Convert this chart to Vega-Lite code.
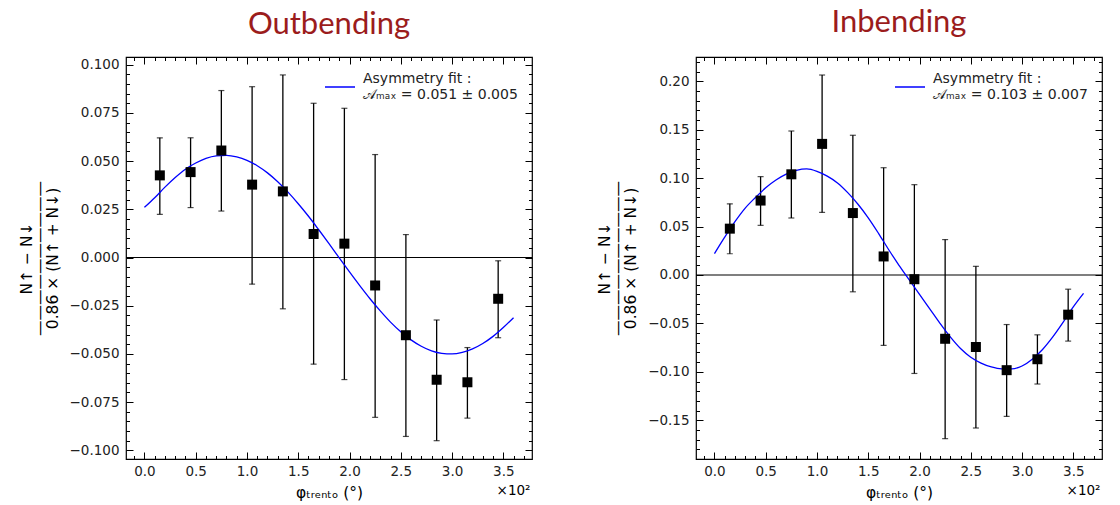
{
  "$schema": "https://vega.github.io/schema/vega-lite/v6.json",
  "background": "white",
  "padding": {"left": 18, "top": 6, "right": 5, "bottom": 5},
  "datasets": {
    "outPts": [
      {"phi": 0.15, "A": 0.0426, "lo": 0.0224, "hi": 0.0621},
      {"phi": 0.45, "A": 0.0443, "lo": 0.0259, "hi": 0.0621},
      {"phi": 0.75, "A": 0.0555, "lo": 0.0241, "hi": 0.0866},
      {"phi": 1.05, "A": 0.0378, "lo": -0.0138, "hi": 0.0886},
      {"phi": 1.35, "A": 0.0343, "lo": -0.0266, "hi": 0.0947},
      {"phi": 1.65, "A": 0.0122, "lo": -0.0553, "hi": 0.0800},
      {"phi": 1.95, "A": 0.0072, "lo": -0.0633, "hi": 0.0774},
      {"phi": 2.25, "A": -0.0145, "lo": -0.0829, "hi": 0.0534},
      {"phi": 2.55, "A": -0.0403, "lo": -0.0928, "hi": 0.0119},
      {"phi": 2.85, "A": -0.0634, "lo": -0.0950, "hi": -0.0324},
      {"phi": 3.15, "A": -0.0647, "lo": -0.0833, "hi": -0.0467},
      {"phi": 3.45, "A": -0.0214, "lo": -0.0416, "hi": -0.0017}
    ],
    "inPts": [
      {"phi": 0.15, "A": 0.0478, "lo": 0.0219, "hi": 0.0734},
      {"phi": 0.45, "A": 0.0768, "lo": 0.0512, "hi": 0.1015},
      {"phi": 0.75, "A": 0.1039, "lo": 0.0588, "hi": 0.1486},
      {"phi": 1.05, "A": 0.1353, "lo": 0.0646, "hi": 0.2064},
      {"phi": 1.35, "A": 0.0639, "lo": -0.0174, "hi": 0.1442},
      {"phi": 1.65, "A": 0.0191, "lo": -0.0727, "hi": 0.1107},
      {"phi": 1.95, "A": -0.0044, "lo": -0.1017, "hi": 0.0932},
      {"phi": 2.25, "A": -0.0659, "lo": -0.1690, "hi": 0.0365},
      {"phi": 2.55, "A": -0.0744, "lo": -0.1580, "hi": 0.0089},
      {"phi": 2.85, "A": -0.0983, "lo": -0.1460, "hi": -0.0512},
      {"phi": 3.15, "A": -0.0870, "lo": -0.1126, "hi": -0.0618},
      {"phi": 3.45, "A": -0.0410, "lo": -0.0683, "hi": -0.0147}
    ],
    "outCurve": [
      {"phi": 0.0, "A": 0.0260}, {"phi": 0.1, "A": 0.0310}, {"phi": 0.2, "A": 0.0365},
      {"phi": 0.3, "A": 0.0415}, {"phi": 0.4, "A": 0.0458}, {"phi": 0.5, "A": 0.0490},
      {"phi": 0.6, "A": 0.0514}, {"phi": 0.7, "A": 0.0527}, {"phi": 0.8, "A": 0.0530},
      {"phi": 0.9, "A": 0.0522}, {"phi": 1.0, "A": 0.0504}, {"phi": 1.1, "A": 0.0476},
      {"phi": 1.2, "A": 0.0439}, {"phi": 1.3, "A": 0.0393}, {"phi": 1.4, "A": 0.0339},
      {"phi": 1.5, "A": 0.0279}, {"phi": 1.6, "A": 0.0214}, {"phi": 1.7, "A": 0.0144},
      {"phi": 1.8, "A": 0.0072}, {"phi": 1.9, "A": -0.0002}, {"phi": 2.0, "A": -0.0075},
      {"phi": 2.1, "A": -0.0146}, {"phi": 2.2, "A": -0.0214}, {"phi": 2.3, "A": -0.0277},
      {"phi": 2.4, "A": -0.0335}, {"phi": 2.5, "A": -0.0385}, {"phi": 2.6, "A": -0.0427},
      {"phi": 2.7, "A": -0.0460}, {"phi": 2.8, "A": -0.0484}, {"phi": 2.9, "A": -0.0497},
      {"phi": 3.0, "A": -0.0500}, {"phi": 3.1, "A": -0.0492}, {"phi": 3.2, "A": -0.0474},
      {"phi": 3.3, "A": -0.0446}, {"phi": 3.4, "A": -0.0409}, {"phi": 3.5, "A": -0.0363},
      {"phi": 3.6, "A": -0.0312}
    ],
    "inCurve": [
      {"phi": 0.0, "A": 0.022}, {"phi": 0.1, "A": 0.039}, {"phi": 0.2, "A": 0.055},
      {"phi": 0.3, "A": 0.069}, {"phi": 0.4, "A": 0.080}, {"phi": 0.5, "A": 0.090},
      {"phi": 0.6, "A": 0.098}, {"phi": 0.7, "A": 0.104}, {"phi": 0.8, "A": 0.108},
      {"phi": 0.9, "A": 0.1095}, {"phi": 1.0, "A": 0.107}, {"phi": 1.1, "A": 0.102},
      {"phi": 1.2, "A": 0.095}, {"phi": 1.3, "A": 0.085}, {"phi": 1.4, "A": 0.073},
      {"phi": 1.5, "A": 0.059}, {"phi": 1.6, "A": 0.043}, {"phi": 1.7, "A": 0.026},
      {"phi": 1.8, "A": 0.010}, {"phi": 1.9, "A": -0.005}, {"phi": 2.0, "A": -0.020},
      {"phi": 2.1, "A": -0.035}, {"phi": 2.2, "A": -0.050}, {"phi": 2.3, "A": -0.064},
      {"phi": 2.4, "A": -0.076}, {"phi": 2.5, "A": -0.085}, {"phi": 2.6, "A": -0.091},
      {"phi": 2.7, "A": -0.095}, {"phi": 2.8, "A": -0.097}, {"phi": 2.9, "A": -0.097},
      {"phi": 3.0, "A": -0.094}, {"phi": 3.1, "A": -0.087}, {"phi": 3.2, "A": -0.077},
      {"phi": 3.3, "A": -0.064}, {"phi": 3.4, "A": -0.049}, {"phi": 3.5, "A": -0.033},
      {"phi": 3.6, "A": -0.019}
    ],
    "zero": [{"y0": 0}]
  },
  "spacing": 63,
  "resolve": {"scale": {"color": "independent"}, "legend": {"color": "independent"}},
  "hconcat": [
    {
      "width": 406, "height": 402,
      "title": {"text": "Outbending"},
      "resolve": {"axis": {"x": "independent", "y": "independent"}},
      "layer": [
        {
          "data": {"name": "zero"},
          "mark": {"type": "rule", "color": "black", "strokeWidth": 1.1},
          "encoding": {"y": {"field": "y0", "type": "quantitative", "axis": null, "scale": {"domain": [-0.1045, 0.104], "nice": false, "zero": false}}}
        },
        {
          "data": {"name": "outPts"},
          "mark": {"type": "errorbar", "ticks": {"size": 6, "thickness": 1.2}, "thickness": 1.3, "color": "black"},
          "encoding": {
            "x": {"field": "phi", "type": "quantitative", "axis": null, "scale": {"domain": [-0.18, 3.78], "nice": false, "zero": false}},
            "y": {"field": "lo", "type": "quantitative", "axis": null, "scale": {"domain": [-0.1045, 0.104], "nice": false, "zero": false}},
            "y2": {"field": "hi"}
          }
        },
        {
          "data": {"name": "outCurve"},
          "mark": {"type": "line", "strokeWidth": 1.3, "interpolate": "monotone"},
          "encoding": {
            "x": {"field": "phi", "type": "quantitative", "scale": {"domain": [-0.18, 3.78], "nice": false, "zero": false},
              "axis": {"orient": "bottom", "title": "φₜᵣₑₙₜₒ (°)", "titlePadding": 4,
                "values": [-0.1,0,0.1,0.2,0.3,0.4,0.5,0.6,0.7,0.8,0.9,1,1.1,1.2,1.3,1.4,1.5,1.6,1.7,1.8,1.9,2,2.1,2.2,2.3,2.4,2.5,2.6,2.7,2.8,2.9,3,3.1,3.2,3.3,3.4,3.5,3.6,3.7],
                "labelExpr": "abs(datum.value*2 - round(datum.value*2)) < 0.001 ? format(datum.value, '.1f') : ''",
                "tickSize": {"condition": {"test": "abs(datum.value*2 - round(datum.value*2)) < 0.001", "value": -7}, "value": -3.5},
                "labelPadding": 12}},
            "y": {"field": "A", "type": "quantitative", "scale": {"domain": [-0.1045, 0.104], "nice": false, "zero": false},
              "axis": {"orient": "left", "title": ["N↑ − N↓", "——————————", "0.86 × (N↑ + N↓)"], "titleLineHeight": 13, "titlePadding": 9,
                "values": [-0.1,-0.095,-0.09,-0.085,-0.08,-0.075,-0.07,-0.065,-0.06,-0.055,-0.05,-0.045,-0.04,-0.035,-0.03,-0.025,-0.02,-0.015,-0.01,-0.005,0,0.005,0.01,0.015,0.02,0.025,0.03,0.035,0.04,0.045,0.05,0.055,0.06,0.065,0.07,0.075,0.08,0.085,0.09,0.095,0.1],
                "labelExpr": "abs(datum.value*40 - round(datum.value*40)) < 0.001 ? format(datum.value, '.3f') : ''",
                "tickSize": {"condition": {"test": "abs(datum.value*40 - round(datum.value*40)) < 0.001", "value": -7}, "value": -3.5},
                "labelPadding": 14}},
            "color": {"datum": "Asymmetry fit :|𝒜ₘₐₓ = 0.051 ± 0.005", "scale": {"range": ["blue"]},
              "legend": {"orient": "top-right", "title": null, "labelExpr": "split(datum.label, '|')"}}
          }
        },
        {
          "data": {"name": "outPts"},
          "mark": {"type": "square", "size": 100, "color": "black", "opacity": 1},
          "encoding": {
            "x": {"field": "phi", "type": "quantitative", "scale": {"domain": [-0.18, 3.78], "nice": false, "zero": false},
              "axis": {"orient": "top", "labels": false, "title": "×10²", "titleX": 404, "titleY": 433, "titleAlign": "right", "titleBaseline": "middle", "titleFontSize": 13.5, "titleAngle": 0,
                "values": [-0.1,0,0.1,0.2,0.3,0.4,0.5,0.6,0.7,0.8,0.9,1,1.1,1.2,1.3,1.4,1.5,1.6,1.7,1.8,1.9,2,2.1,2.2,2.3,2.4,2.5,2.6,2.7,2.8,2.9,3,3.1,3.2,3.3,3.4,3.5,3.6,3.7],
                "tickSize": {"condition": {"test": "abs(datum.value*2 - round(datum.value*2)) < 0.001", "value": -7}, "value": -3.5}}},
            "y": {"field": "A", "type": "quantitative", "scale": {"domain": [-0.1045, 0.104], "nice": false, "zero": false},
              "axis": {"orient": "right", "labels": false, "title": null,
                "values": [-0.1,-0.095,-0.09,-0.085,-0.08,-0.075,-0.07,-0.065,-0.06,-0.055,-0.05,-0.045,-0.04,-0.035,-0.03,-0.025,-0.02,-0.015,-0.01,-0.005,0,0.005,0.01,0.015,0.02,0.025,0.03,0.035,0.04,0.045,0.05,0.055,0.06,0.065,0.07,0.075,0.08,0.085,0.09,0.095,0.1],
                "tickSize": {"condition": {"test": "abs(datum.value*40 - round(datum.value*40)) < 0.001", "value": -7}, "value": -3.5}}}
          }
        }
      ]
    },
    {
      "width": 406, "height": 402,
      "title": {"text": "Inbending"},
      "resolve": {"axis": {"x": "independent", "y": "independent"}},
      "layer": [
        {
          "data": {"name": "zero"},
          "mark": {"type": "rule", "color": "black", "strokeWidth": 1.1},
          "encoding": {"y": {"field": "y0", "type": "quantitative", "axis": null, "scale": {"domain": [-0.19, 0.225], "nice": false, "zero": false}}}
        },
        {
          "data": {"name": "inPts"},
          "mark": {"type": "errorbar", "ticks": {"size": 6, "thickness": 1.2}, "thickness": 1.3, "color": "black"},
          "encoding": {
            "x": {"field": "phi", "type": "quantitative", "axis": null, "scale": {"domain": [-0.18, 3.78], "nice": false, "zero": false}},
            "y": {"field": "lo", "type": "quantitative", "axis": null, "scale": {"domain": [-0.19, 0.225], "nice": false, "zero": false}},
            "y2": {"field": "hi"}
          }
        },
        {
          "data": {"name": "inCurve"},
          "mark": {"type": "line", "strokeWidth": 1.3, "interpolate": "monotone"},
          "encoding": {
            "x": {"field": "phi", "type": "quantitative", "scale": {"domain": [-0.18, 3.78], "nice": false, "zero": false},
              "axis": {"orient": "bottom", "title": "φₜᵣₑₙₜₒ (°)", "titlePadding": 4,
                "values": [-0.1,0,0.1,0.2,0.3,0.4,0.5,0.6,0.7,0.8,0.9,1,1.1,1.2,1.3,1.4,1.5,1.6,1.7,1.8,1.9,2,2.1,2.2,2.3,2.4,2.5,2.6,2.7,2.8,2.9,3,3.1,3.2,3.3,3.4,3.5,3.6,3.7],
                "labelExpr": "abs(datum.value*2 - round(datum.value*2)) < 0.001 ? format(datum.value, '.1f') : ''",
                "tickSize": {"condition": {"test": "abs(datum.value*2 - round(datum.value*2)) < 0.001", "value": -7}, "value": -3.5},
                "labelPadding": 12}},
            "y": {"field": "A", "type": "quantitative", "scale": {"domain": [-0.19, 0.225], "nice": false, "zero": false},
              "axis": {"orient": "left", "title": ["N↑ − N↓", "——————————", "0.86 × (N↑ + N↓)"], "titleLineHeight": 13, "titlePadding": 9,
                "values": [-0.18,-0.17,-0.16,-0.15,-0.14,-0.13,-0.12,-0.11,-0.1,-0.09,-0.08,-0.07,-0.06,-0.05,-0.04,-0.03,-0.02,-0.01,0,0.01,0.02,0.03,0.04,0.05,0.06,0.07,0.08,0.09,0.1,0.11,0.12,0.13,0.14,0.15,0.16,0.17,0.18,0.19,0.2,0.21,0.22],
                "labelExpr": "abs(datum.value*20 - round(datum.value*20)) < 0.001 ? format(datum.value, '.2f') : ''",
                "tickSize": {"condition": {"test": "abs(datum.value*20 - round(datum.value*20)) < 0.001", "value": -7}, "value": -3.5},
                "labelPadding": 14}},
            "color": {"datum": "Asymmetry fit :|𝒜ₘₐₓ = 0.103 ± 0.007", "scale": {"range": ["blue"]},
              "legend": {"orient": "top-right", "title": null, "labelExpr": "split(datum.label, '|')"}}
          }
        },
        {
          "data": {"name": "inPts"},
          "mark": {"type": "square", "size": 100, "color": "black", "opacity": 1},
          "encoding": {
            "x": {"field": "phi", "type": "quantitative", "scale": {"domain": [-0.18, 3.78], "nice": false, "zero": false},
              "axis": {"orient": "top", "labels": false, "title": "×10²", "titleX": 404, "titleY": 433, "titleAlign": "right", "titleBaseline": "middle", "titleFontSize": 13.5, "titleAngle": 0,
                "values": [-0.1,0,0.1,0.2,0.3,0.4,0.5,0.6,0.7,0.8,0.9,1,1.1,1.2,1.3,1.4,1.5,1.6,1.7,1.8,1.9,2,2.1,2.2,2.3,2.4,2.5,2.6,2.7,2.8,2.9,3,3.1,3.2,3.3,3.4,3.5,3.6,3.7],
                "tickSize": {"condition": {"test": "abs(datum.value*2 - round(datum.value*2)) < 0.001", "value": -7}, "value": -3.5}}},
            "y": {"field": "A", "type": "quantitative", "scale": {"domain": [-0.19, 0.225], "nice": false, "zero": false},
              "axis": {"orient": "right", "labels": false, "title": null,
                "values": [-0.18,-0.17,-0.16,-0.15,-0.14,-0.13,-0.12,-0.11,-0.1,-0.09,-0.08,-0.07,-0.06,-0.05,-0.04,-0.03,-0.02,-0.01,0,0.01,0.02,0.03,0.04,0.05,0.06,0.07,0.08,0.09,0.1,0.11,0.12,0.13,0.14,0.15,0.16,0.17,0.18,0.19,0.2,0.21,0.22],
                "tickSize": {"condition": {"test": "abs(datum.value*20 - round(datum.value*20)) < 0.001", "value": -7}, "value": -3.5}}}
          }
        }
      ]
    }
  ],
  "config": {
    "view": {"stroke": "black", "strokeWidth": 1.2},
    "axis": {"grid": false, "domain": false, "labelFont": "DejaVu Sans", "labelFontSize": 13.5, "labelColor": "#222",
      "tickColor": "black", "tickWidth": 1, "titleFont": "DejaVu Sans", "titleFontWeight": "normal", "titleFontSize": 15.5,
      "titleColor": "black", "labelOverlap": false, "labelFlush": false},
    "legend": {"labelFont": "DejaVu Sans", "labelFontSize": 14, "labelColor": "#222", "labelLimit": 0,
      "symbolType": "stroke", "symbolStrokeWidth": 1.5, "symbolSize": 900, "offset": 14, "padding": 0,
      "labelOffset": 7, "labelBaseline": "line-bottom"},
    "title": {"font": "Lato", "fontSize": 31, "fontWeight": "normal", "color": "#9b1c1c", "offset": 16, "anchor": "middle"}
  }
}
